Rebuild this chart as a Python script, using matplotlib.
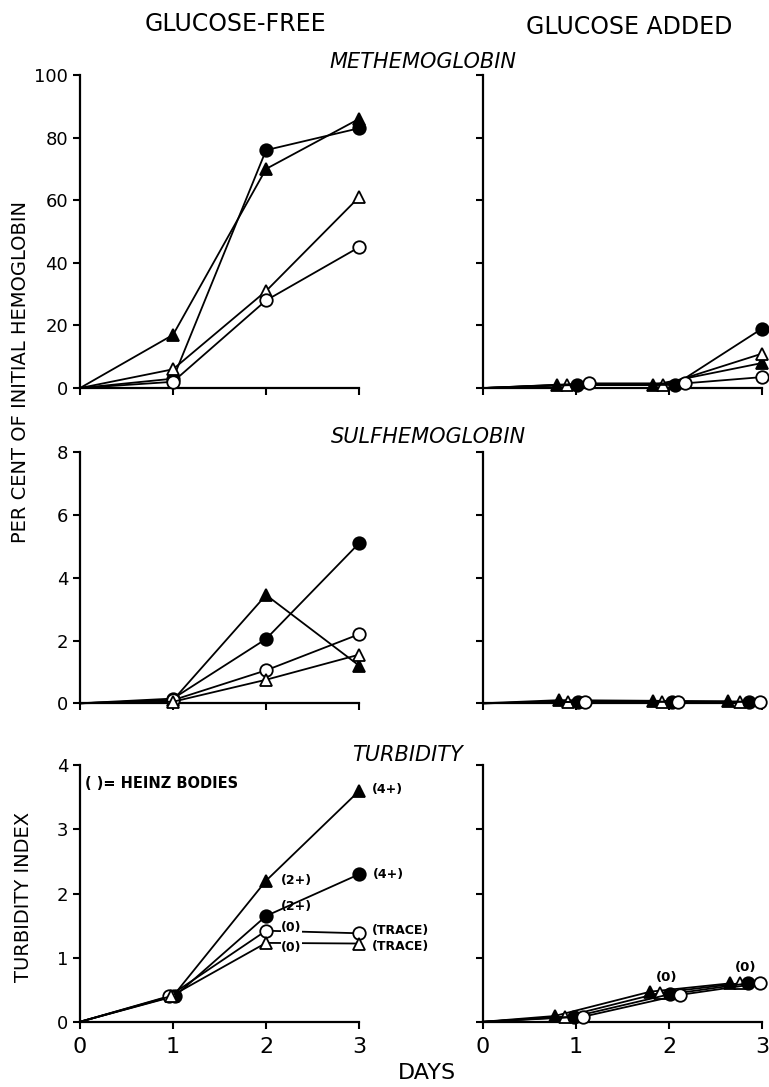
#!/usr/bin/env python3
# -*- coding: utf-8 -*-
#<----------------------------- Imports ------------------------------------>
import matplotlib
matplotlib.use("Agg")
import matplotlib.pyplot as plt

#<------------------------- Variables ------------------------------------->
days = [0, 1, 2, 3]

# methemoglobin, glucose-free
met_free_ftri = [0, 17, 70, 86]
met_free_fcirc = [0, 3, 76, 83]
met_free_otri = [0, 6, 31, 61]
met_free_ocirc = [0, 2, 28, 45]

# methemoglobin, glucose added (points slightly offset in time)
met_add_x_ftri = [0, 0.80, 1.83, 3.0]
met_add_x_otri = [0, 0.90, 1.94, 3.0]
met_add_x_fcirc = [0, 1.01, 2.06, 3.0]
met_add_x_ocirc = [0, 1.14, 2.17, 3.0]
met_add_ftri = [0, 1.0, 1.0, 8]
met_add_otri = [0, 1.0, 1.0, 11]
met_add_fcirc = [0, 1.0, 1.0, 19]
met_add_ocirc = [0, 1.5, 1.5, 3.5]

# sulfhemoglobin, glucose-free
sulf_free_ftri = [0, 0.1, 3.45, 1.2]
sulf_free_fcirc = [0, 0.15, 2.05, 5.1]
sulf_free_otri = [0, 0.05, 0.75, 1.55]
sulf_free_ocirc = [0, 0.1, 1.05, 2.2]

# sulfhemoglobin, glucose added
sulf_add_x_ftri = [0, 0.82, 1.83, 2.63]
sulf_add_x_otri = [0, 0.91, 1.92, 2.76]
sulf_add_x_fcirc = [0, 1.02, 2.03, 2.86]
sulf_add_x_ocirc = [0, 1.10, 2.10, 2.98]
sulf_add_ftri = [0, 0.10, 0.08, 0.06]
sulf_add_otri = [0, 0.05, 0.05, 0.05]
sulf_add_fcirc = [0, 0.05, 0.05, 0.05]
sulf_add_ocirc = [0, 0.05, 0.05, 0.05]

# turbidity, glucose-free
turb_free_x_ftri = [0, 1.0, 2, 3]
turb_free_x_fcirc = [0, 1.02, 2, 3]
turb_free_x_ocirc = [0, 0.96, 2, 3]
turb_free_x_otri = [0, 0.98, 2, 3]
turb_free_ftri = [0, 0.4, 2.2, 3.6]
turb_free_fcirc = [0, 0.4, 1.65, 2.3]
turb_free_ocirc = [0, 0.4, 1.42, 1.38]
turb_free_otri = [0, 0.4, 1.23, 1.22]
heinz_free_ftri = ["", "", "(2+)", "(4+)"]
heinz_free_fcirc = ["", "", "(2+)", "(4+)"]
heinz_free_ocirc = ["", "", "(0)", "(TRACE)"]
heinz_free_otri = ["", "", "(0)", "(TRACE)"]

# turbidity, glucose added
turb_add_x_ftri = [0, 0.77, 1.80, 2.66]
turb_add_x_otri = [0, 0.88, 1.90, 2.76]
turb_add_x_fcirc = [0, 0.98, 2.01, 2.85]
turb_add_x_ocirc = [0, 1.08, 2.12, 2.98]
turb_add_ftri = [0, 0.09, 0.47, 0.60]
turb_add_otri = [0, 0.08, 0.45, 0.60]
turb_add_fcirc = [0, 0.08, 0.43, 0.60]
turb_add_ocirc = [0, 0.08, 0.42, 0.60]
heinz_add = ["", "", "(0)", "(0)"]

met_ticks = [0, 20, 40, 60, 80, 100]
sulf_ticks = [0, 2, 4, 6, 8]
turb_ticks = [0, 1, 2, 3, 4]

#<--------------------------- Helpers ------------------------------------->
FT = dict(marker="^", mfc="black")
OT = dict(marker="^", mfc="white")
FC = dict(marker="o", mfc="black")
OC = dict(marker="o", mfc="white")


def serie(ax, x, y, st):
    # no marker at the origin, as in the original figure
    ax.plot(x, y, color="black", lw=1.3, mec="black", mew=1.3, ms=9,
            markevery=slice(1, None), clip_on=False, zorder=3, **st)


def ejes(ax, yticks, ylabels, xlabels):
    ax.set_xlim(0, 3)
    ax.set_ylim(yticks[0], yticks[-1])
    for s in ["top", "right"]:
        ax.spines[s].set_visible(False)
    for s in ["left", "bottom"]:
        ax.spines[s].set_linewidth(1.6)
    ax.set_xticks(days)
    ax.set_yticks(yticks)
    ax.tick_params(direction="out", length=5, width=1.5)
    if ylabels:
        ax.set_yticklabels([str(t) for t in yticks], fontsize=13)
    else:
        ax.set_yticklabels([])
    if xlabels:
        ax.set_xticklabels([str(d) for d in days], fontsize=16)
        ax.tick_params(axis="x", pad=6)
    else:
        ax.set_xticklabels([])


#<--------------------------- Plot ---------------------------------------->
fig = plt.figure(figsize=(7.69, 10.87), dpi=100)
L, R, W = 0.104, 0.628, 0.363
ax_mf = fig.add_axes([L, 0.643, W, 0.288])
ax_ma = fig.add_axes([R, 0.643, W, 0.288])
ax_sf = fig.add_axes([L, 0.353, W, 0.231])
ax_sa = fig.add_axes([R, 0.353, W, 0.231])
ax_tf = fig.add_axes([L, 0.060, W, 0.236])
ax_ta = fig.add_axes([R, 0.060, W, 0.236])

# methemoglobin
serie(ax_mf, days, met_free_ftri, FT)
serie(ax_mf, days, met_free_fcirc, FC)
serie(ax_mf, days, met_free_otri, OT)
serie(ax_mf, days, met_free_ocirc, OC)
serie(ax_ma, met_add_x_ftri, met_add_ftri, FT)
serie(ax_ma, met_add_x_otri, met_add_otri, OT)
serie(ax_ma, met_add_x_fcirc, met_add_fcirc, FC)
serie(ax_ma, met_add_x_ocirc, met_add_ocirc, OC)
ejes(ax_mf, met_ticks, True, False)
ejes(ax_ma, met_ticks, False, False)

# sulfhemoglobin
serie(ax_sf, days, sulf_free_ftri, FT)
serie(ax_sf, days, sulf_free_fcirc, FC)
serie(ax_sf, days, sulf_free_ocirc, OC)
serie(ax_sf, days, sulf_free_otri, OT)
serie(ax_sa, sulf_add_x_ftri, sulf_add_ftri, FT)
serie(ax_sa, sulf_add_x_otri, sulf_add_otri, OT)
serie(ax_sa, sulf_add_x_fcirc, sulf_add_fcirc, FC)
serie(ax_sa, sulf_add_x_ocirc, sulf_add_ocirc, OC)
ejes(ax_sf, sulf_ticks, True, False)
ejes(ax_sa, sulf_ticks, False, False)

# turbidity
serie(ax_tf, turb_free_x_ftri, turb_free_ftri, FT)
serie(ax_tf, turb_free_x_fcirc, turb_free_fcirc, FC)
serie(ax_tf, turb_free_x_ocirc, turb_free_ocirc, OC)
serie(ax_tf, turb_free_x_otri, turb_free_otri, OT)
serie(ax_ta, turb_add_x_ftri, turb_add_ftri, FT)
serie(ax_ta, turb_add_x_otri, turb_add_otri, OT)
serie(ax_ta, turb_add_x_fcirc, turb_add_fcirc, FC)
serie(ax_ta, turb_add_x_ocirc, turb_add_ocirc, OC)
ejes(ax_tf, turb_ticks, True, True)
ejes(ax_ta, turb_ticks, False, True)

# Heinz body labels
offs = {
    "ftri": [(0, 0), (0, 0), (11, 0), (9, 1)],
    "fcirc": [(0, 0), (0, 0), (11, 7), (10, 0)],
    "ocirc": [(0, 0), (0, 0), (11, 2), (9, 2)],
    "otri": [(0, 0), (0, 0), (11, -3), (9, -2)],
}
grupos = [
    ("ftri", turb_free_x_ftri, turb_free_ftri, heinz_free_ftri),
    ("fcirc", turb_free_x_fcirc, turb_free_fcirc, heinz_free_fcirc),
    ("ocirc", turb_free_x_ocirc, turb_free_ocirc, heinz_free_ocirc),
    ("otri", turb_free_x_otri, turb_free_otri, heinz_free_otri),
]
for k, xs, ys, labs in grupos:
    for i, lab in enumerate(labs):
        if not lab:
            continue
        bb = None
        if lab == "(0)":
            bb = dict(boxstyle="square,pad=0.05", fc="white", ec="none")
        ax_tf.annotate(lab, (xs[i], ys[i]), xytext=offs[k][i],
                       textcoords="offset points", ha="left", va="center",
                       fontsize=9, fontweight="bold", bbox=bb, zorder=5,
                       annotation_clip=False)

for i, lab in enumerate(heinz_add):
    if not lab:
        continue
    xm = (turb_add_x_otri[i] + turb_add_x_fcirc[i]) / 2
    ax_ta.annotate(lab, (xm, turb_add_fcirc[i]), xytext=(1, 7),
                   textcoords="offset points", ha="center", va="bottom",
                   fontsize=9.5, fontweight="bold", annotation_clip=False)

ax_tf.text(0.05, 3.72, "( )= HEINZ BODIES", fontsize=10.5,
           fontweight="bold", ha="left", va="center")

#<--------------------------- Textos -------------------------------------->
fig.text(235 / 769, 1 - 24 / 1087, "GLUCOSE-FREE", fontsize=17,
         ha="center", va="center")
fig.text(629 / 769, 1 - 27 / 1087, "GLUCOSE ADDED", fontsize=17,
         ha="center", va="center")
fig.text(423 / 769, 1 - 62 / 1087, "METHEMOGLOBIN", fontsize=15,
         style="italic", ha="center", va="center")
fig.text(428 / 769, 1 - 437 / 1087, "SULFHEMOGLOBIN", fontsize=15,
         style="italic", ha="center", va="center")
fig.text(407 / 769, 1 - 755 / 1087, "TURBIDITY", fontsize=15,
         style="italic", ha="center", va="center")
fig.text(427 / 769, 1 - 1073 / 1087, "DAYS", fontsize=16,
         ha="center", va="center")
fig.text(21 / 769, 1 - 372 / 1087, "PER CENT OF INITIAL HEMOGLOBIN",
         fontsize=14, rotation=90, ha="center", va="center")
fig.text(24 / 769, 1 - 897 / 1087, "TURBIDITY INDEX", fontsize=14,
         rotation=90, ha="center", va="center")

fig.savefig("out.png", dpi=100, facecolor="white")
